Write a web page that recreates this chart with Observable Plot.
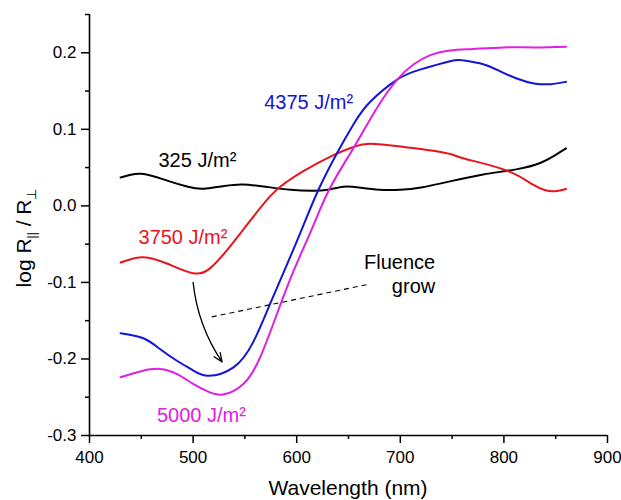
<!DOCTYPE html>
<html><head><meta charset="utf-8">
<script src="https://cdn.jsdelivr.net/npm/d3@7"></script>
<script src="https://cdn.jsdelivr.net/npm/@observablehq/plot@0.6"></script>
<style>body{margin:0;background:#fff}</style>
</head><body><div id="chart"></div>
<script>
// ---- data ----
const wl325 = [430,450,475,495,510,530,548,570,594,615,630,645,660,680,700,720,748,780,813,835,848,860];
const v325  = [0.037,0.042,0.033,0.025,0.0225,0.026,0.028,0.025,0.021,0.0196,0.021,0.025,0.024,0.021,0.021,0.024,0.032,0.041,0.048,0.056,0.065,0.075];

const wl3750 = [430,452,476,500,516,532,549,574,590,606,635,655,671,703,732,750,764,803,829,846,860];
const v3750  = [-0.074,-0.067,-0.076,-0.088,-0.082,-0.059,-0.030,0.012,0.031,0.045,0.066,0.077,0.081,0.077,0.072,0.067,0.061,0.046,0.027,0.019,0.022];

const wl4375 = [430,452,468,484,500,515,539,558,574,588,606,621,639,655,671,697,719,748,761,780,796,813,829,845,860];
const v4375  = [-0.1665,-0.173,-0.187,-0.202,-0.215,-0.222,-0.211,-0.178,-0.129,-0.085,-0.027,0.021,0.069,0.107,0.136,0.165,0.178,0.189,0.190,0.185,0.176,0.166,0.160,0.159,0.162];

const wl5000 = [430,450,468,485,500,515,529,549,565,581,597,615,632,655,677,697,713,729,748,770,800,830,860];
const v5000  = [-0.224,-0.216,-0.213,-0.220,-0.2325,-0.243,-0.2465,-0.232,-0.197,-0.141,-0.085,-0.029,0.023,0.076,0.127,0.165,0.185,0.197,0.203,0.205,0.207,0.207,0.208];

const seriesNames  = ["325", "3750", "4375", "5000"];
const seriesColors = ["#000000", "#e8141c", "#1414d6", "#e020e0"];

const xMajor = [400,500,600,700,800,900];
const xMinor = [450,550,650,750,850];
const yMajor = [-0.3,-0.2,-0.1,0,0.1,0.2];
const yMinor = [-0.25,-0.15,-0.05,0.05,0.15,0.25];

// curve labels: text, anchor wavelength, value
const labelText = ["325 J/m²", "3750 J/m²", "4375 J/m²", "5000 J/m²"];
const labelX    = [466.6, 447.3, 568.6, 465.1];
const labelY    = [0.0593, -0.0417, 0.135, -0.2734];

const noteText = ["Fluence", "grow"];
const noteX    = [733.7, 733.7];
const noteY    = [-0.0739, -0.106];

const arrowFrom = [500, -0.100];
const arrowTo   = [528, -0.204];
const dashFrom  = [518, -0.145];
const dashTo    = [671, -0.102];

// ---- build tables ----
const lines = [];
[[wl325, v325], [wl3750, v3750], [wl4375, v4375], [wl5000, v5000]].forEach(([xs, ys], i) => {
  xs.forEach((x, j) => lines.push({series: seriesNames[i], x, y: ys[j]}));
});
const labels = labelText.map((t, i) => ({t, x: labelX[i], y: labelY[i], c: seriesColors[i]}));
const notes = noteText.map((t, i) => ({t, x: noteX[i], y: noteY[i]}));

const font = "'Liberation Sans', Arial, Helvetica, sans-serif";

const chart = Plot.plot({
  width: 621,
  height: 500,
  marginLeft: 89,
  marginRight: 14,
  marginTop: 14,
  marginBottom: 65,
  style: {fontFamily: font, fontSize: "17px", color: "#000", background: "#fff"},
  x: {domain: [400, 900], label: null},
  y: {domain: [-0.3, 0.25], label: null},
  color: {domain: seriesNames, range: seriesColors},
  marks: [
    Plot.axisX({ticks: xMajor, tickSize: 8, tickPadding: 7, tickFormat: d => String(d), strokeWidth: 1.5, fontSize: 17}),
    Plot.axisX({ticks: xMinor, tickSize: 4, tickFormat: null, text: null, strokeWidth: 1.5}),
    Plot.axisY({ticks: yMajor, tickSize: 8, tickPadding: 5, tickFormat: d => d.toFixed(1), strokeWidth: 1.5, fontSize: 17}),
    Plot.axisY({ticks: yMinor, tickSize: 4, tickFormat: null, text: null, strokeWidth: 1.5}),
    Plot.ruleX([400], {stroke: "#000", strokeWidth: 1.6}),
    Plot.ruleY([-0.3], {stroke: "#000", strokeWidth: 1.6}),
    Plot.line(lines, {x: "x", y: "y", z: "series", stroke: "series", strokeWidth: 2, curve: "natural"}),
    Plot.link([0], {x1: dashFrom[0], y1: dashFrom[1], x2: dashTo[0], y2: dashTo[1], stroke: "#000", strokeWidth: 1.1, strokeDasharray: "5,4"}),
    Plot.arrow([0], {x1: arrowFrom[0], y1: arrowFrom[1], x2: arrowTo[0], y2: arrowTo[1], bend: -14, stroke: "#000", strokeWidth: 1.3, headLength: 11, headAngle: 45}),
    Plot.text(labels, {x: "x", y: "y", text: "t", fill: "c", textAnchor: "start", fontSize: 20}),
    Plot.text(notes, {x: "x", y: "y", text: "t", fill: "#000", textAnchor: "end", fontSize: 20})
  ]
});

const svg = d3.select(chart);
// x axis title
svg.append("text")
  .attr("x", 348).attr("y", 495)
  .attr("text-anchor", "middle")
  .attr("font-family", font).attr("font-size", 21).attr("fill", "#000")
  .text("Wavelength (nm)");
// y axis title with subscripts
const yt = svg.append("text")
  .attr("transform", "translate(31,238) rotate(-90)")
  .attr("text-anchor", "middle")
  .attr("font-family", font).attr("font-size", 21).attr("fill", "#000");
yt.append("tspan").text("log R");
yt.append("tspan").attr("font-size", 12).attr("dy", 5).text("||");
yt.append("tspan").attr("dy", -5).text(" / R");
yt.append("tspan").attr("font-size", 13).attr("dy", 5).text("⊥");

document.getElementById("chart").append(chart);
</script>
</body></html>
